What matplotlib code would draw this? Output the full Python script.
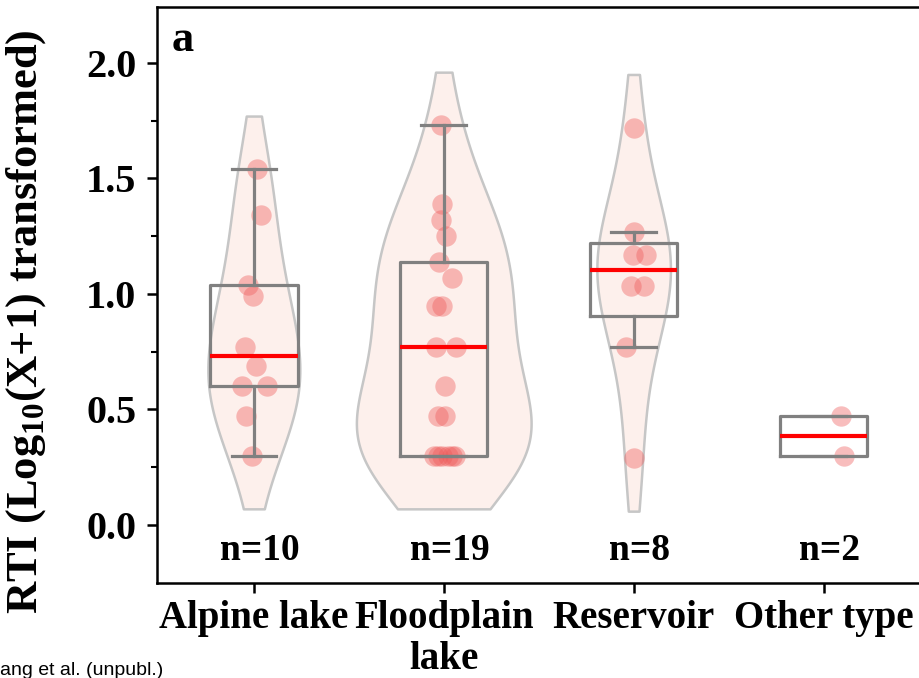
import numpy as np
import matplotlib.pyplot as plt

plt.rcParams['font.family'] = ['Liberation Serif', 'DejaVu Serif']
plt.rcParams['font.weight'] = 'bold'
plt.rcParams['axes.labelweight'] = 'bold'
plt.rcParams['mathtext.fontset'] = 'custom'
plt.rcParams['mathtext.rm'] = 'Liberation Serif:bold'
plt.rcParams['mathtext.bf'] = 'Liberation Serif:bold'

# RTI values, log10(X+1) transformed, per lake type
labels = ['Alpine lake', 'Floodplain\nlake', 'Reservoir', 'Other type']
alpine = [1.54, 1.34, 1.04, 0.99, 0.77, 0.69, 0.60, 0.60, 0.47, 0.30]
floodplain = [1.73, 1.39, 1.32, 1.25, 1.14, 1.07, 0.95, 0.95, 0.77, 0.77,
              0.60, 0.47, 0.47, 0.30, 0.30, 0.30, 0.30, 0.30, 0.30]
reservoir = [1.72, 1.27, 1.17, 1.17, 1.035, 1.035, 0.77, 0.29]
other = [0.47, 0.30]
groups = [alpine, floodplain, reservoir, other]

# horizontal jitter of the points
jitter = [
    [0.014, 0.04, -0.03, -0.004, -0.047, 0.01, -0.065, 0.067, -0.042, -0.012],
    [-0.012, -0.009, -0.017, 0.012, -0.023, 0.044, -0.04, -0.009, -0.04, 0.065,
     0.004, -0.03, 0.009, -0.053, -0.03, -0.009, 0.02, 0.045, 0.058],
    [0.0, 0.0, -0.005, 0.065, -0.015, 0.055, -0.04, 0.0],
    [0.09, 0.11],
]


def hinges(v):
    # quartiles as medians of the lower and upper halves
    v = np.sort(np.asarray(v))
    n = len(v)
    lo, hi = v[:n // 2], v[(n + 1) // 2:]
    return np.median(lo), np.median(v), np.median(hi)


def kde(v, grid):
    v = np.asarray(v)
    bw = 1.06 * v.std(ddof=1) * len(v) ** -0.2
    z = (grid[:, None] - v[None, :]) / bw
    return np.exp(-0.5 * z ** 2).sum(1)


fig = plt.figure(figsize=(9.19, 6.78), dpi=100)
ax = fig.add_axes([157 / 919, 95 / 678, 771 / 919, 576 / 678])

grey = '#808080'
cut = 0.23
nmax = max(len(g) for g in groups)

# violins (only where there are enough points), width grows with n
for i, g in enumerate(groups):
    if len(g) < 3:
        continue
    y = np.linspace(min(g) - cut, max(g) + cut, 200)
    d = kde(g, y)
    half = d / d.max() * 0.46 * len(g) / nmax
    ax.fill_betweenx(y, i - half, i + half, facecolor='#fdf0ec',
                     edgecolor='#c6c6c6', linewidth=1.8, zorder=1)

# points
for i, g in enumerate(groups):
    ax.scatter(np.array(jitter[i]) + i, g, s=215, color='#ee5a5a', alpha=0.4,
               linewidths=0, zorder=2)

# boxes
stats = []
for g in groups:
    q1, med, q3 = hinges(g)
    iqr = q3 - q1
    inside = [v for v in g if q1 - 1.5 * iqr <= v <= q3 + 1.5 * iqr]
    stats.append(dict(med=med, q1=q1, q3=q3, whislo=min(inside),
                      whishi=max(inside), fliers=[]))
ax.bxp(stats, positions=range(len(groups)), widths=0.46, capwidths=0.235,
       showfliers=False, manage_ticks=False,
       boxprops=dict(color=grey, linewidth=2.3),
       whiskerprops=dict(color=grey, linewidth=2.3),
       capprops=dict(color=grey, linewidth=2.3),
       medianprops=dict(color='red', linewidth=3),
       zorder=3)

for i, g in enumerate(groups):
    ax.text(i + 0.03, -0.11, f'n={len(g)}', ha='center', va='center',
            fontsize=27)

ax.text(0.019, 0.943, 'a', transform=ax.transAxes, ha='left', va='center',
        fontsize=32)

ax.set_xlim(-0.51, 3.55)
ax.set_ylim(-0.251, 2.242)
ax.set_xticks(range(len(groups)))
ax.set_xticklabels(labels, fontsize=28, linespacing=1.15)
ticks = np.arange(0, 2.01, 0.5)
ax.set_yticks(ticks)
ax.set_yticklabels([f'{t:.1f}' for t in ticks], fontsize=29)
ax.set_yticks(np.arange(0.25, 2.0, 0.5), minor=True)
ax.tick_params(axis='y', which='major', length=7, width=1.8, pad=8)
ax.tick_params(axis='x', which='major', length=7, width=1.8, pad=5)
ax.tick_params(which='minor', length=4, width=1.5)
for s in ax.spines.values():
    s.set_linewidth(1.8)
ax.set_ylabel(r'RTI (Log$_{\mathbf{10}}$(X+1) transformed)', fontsize=32)
ax.yaxis.set_label_coords(-0.142, 0.453)

fig.text(0.0, 0.005, 'ang et al. (unpubl.)', fontsize=14, family='Liberation Sans',
         weight='normal', ha='left', va='baseline')

fig.savefig('out.png', dpi=100)
